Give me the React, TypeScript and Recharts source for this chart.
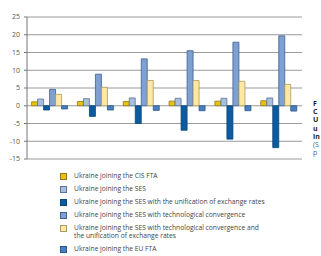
import React from "react";
import { BarChart, Bar, YAxis, XAxis, CartesianGrid } from "recharts";

const groups = ["1", "2", "3", "4", "5", "6"];
const cisFta = [1.1, 1.2, 1.2, 1.3, 1.3, 1.4];
const ses = [1.9, 2.0, 2.2, 2.1, 2.1, 2.2];
const sesUnif = [-1.2, -3.0, -5.0, -6.9, -9.4, -11.8];
const sesTech = [4.6, 8.9, 13.2, 15.5, 17.9, 19.7];
const sesTechUnif = [3.2, 5.2, 7.1, 7.1, 6.9, 6.0];
const euFta = [-0.9, -1.2, -1.3, -1.4, -1.4, -1.5];
const yTicks = [-15, -10, -5, 0, 5, 10, 15, 20, 25];

const SERIES = [
  { key: "cis", name: "Ukraine joining the CIS FTA", fill: "#EBC10E", stroke: "#8C7A1E" },
  { key: "ses", name: "Ukraine joining the SES", fill: "#A9BEDD", stroke: "#5B7397" },
  { key: "unif", name: "Ukraine joining the SES with the unification of exchange rates", fill: "#0B5B9E", stroke: "#0A4478" },
  { key: "tech", name: "Ukraine joining the SES with technological convergence", fill: "#7FA0D1", stroke: "#3D5F91" },
  { key: "techUnif", name: "Ukraine joining the SES with technological convergence and the unification of exchange rates", fill: "#FFE8A3", stroke: "#A89A5E" },
  { key: "eu", name: "Ukraine joining the EU FTA", fill: "#4A80BF", stroke: "#2B5888" },
];

const data = groups.map((g, i) => ({
  name: g,
  cis: cisFta[i],
  ses: ses[i],
  unif: sesUnif[i],
  tech: sesTech[i],
  techUnif: sesTechUnif[i],
  eu: euFta[i],
}));

const font = "'Open Sans', 'DejaVu Sans', sans-serif";

const App: React.FC = () => {
  return (
    <div style={{ position: "absolute", left: 0, top: 0, width: 321, height: 256, background: "#fff", overflow: "hidden", fontFamily: font }}>
      <BarChart
        width={321}
        height={165}
        data={data}
        margin={{ top: 17, right: 19, left: 0, bottom: 6 }}
        barCategoryGap="10%"
        barGap={0}
      >
        <CartesianGrid horizontal vertical={false} stroke="#9a9a9a" strokeWidth={1} />
        <XAxis dataKey="name" hide />
        <YAxis
          width={27}
          domain={[-15, 25]}
          ticks={yTicks}
          interval={0}
          axisLine={{ stroke: "#777" }}
          tickLine={{ stroke: "#777" }}
          tickSize={3}
          tickMargin={4}
          tick={{ fontSize: 7, fill: "#555", fontFamily: font }}
        />
        {SERIES.map((s) => (
          <Bar
            key={s.key}
            dataKey={s.key}
            name={s.name}
            fill={s.fill}
            stroke={s.stroke}
            strokeWidth={0.8}
            isAnimationActive={false}
          />
        ))}
      </BarChart>
      <div style={{ position: "absolute", left: 60, top: 171.5, width: 250, fontSize: 6.7, color: "#444", lineHeight: "8.5px" }}>
        {SERIES.map((s) => (
          <div key={s.key} style={{ display: "flex", alignItems: "flex-start", marginBottom: 4.6 }}>
            <span style={{ width: 7, height: 7, boxSizing: "border-box", background: s.fill, border: `1px solid ${s.stroke}`, marginTop: 1, marginRight: 7, flexShrink: 0 }} />
            <span style={{ width: s.key === "techUnif" ? 188 : 240 }}>{s.name}</span>
          </div>
        ))}
      </div>
      <div style={{ position: "absolute", left: 313, top: 100, fontSize: 7, lineHeight: "8.2px", color: "#222", whiteSpace: "nowrap" }}>
        <div style={{ fontWeight: 700 }}>F</div>
        <div style={{ fontWeight: 700 }}>C</div>
        <div style={{ fontWeight: 700 }}>U</div>
        <div style={{ fontWeight: 700 }}>u</div>
        <div style={{ fontWeight: 700 }}>in</div>
        <div style={{ color: "#666" }}>(S</div>
        <div style={{ color: "#666" }}>p</div>
      </div>
    </div>
  );
};

export default App;
